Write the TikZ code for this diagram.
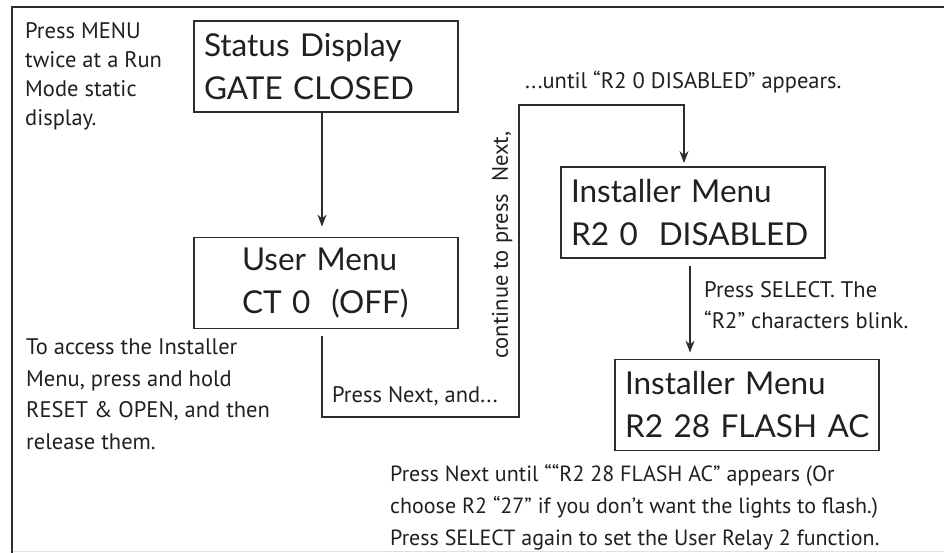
\documentclass[tikz,border=0pt]{standalone}
\usepackage{fontspec}
\setmainfont{PT Sans}
\newfontfamily\boxfont{Lato}
\usetikzlibrary{arrows.meta}
\definecolor{ink}{RGB}{35,31,32}
\definecolor{frame}{RGB}{45,45,45}
\begin{document}
\begin{tikzpicture}[x=1pt,y=-1pt,
  box/.style={draw=frame, line width=1.8pt, minimum height=91pt, text width=244pt, inner xsep=10pt,
    font=\boxfont\fontsize{31.5}{43}\selectfont, align=left, text=ink},
  note/.style={font=\fontsize{22.5}{29}\selectfont, align=left, inner sep=0pt, text=ink, anchor=north west},
  conn/.style={draw=frame, line width=1.1pt},
  arr/.style={conn, -{Stealth[length=12pt,width=9pt]}}]
\useasboundingbox (0,0) rectangle (944,553);
% outer frame
\draw[draw=frame, line width=2pt] (11.5,553) -- (11.5,7) -- (944,7);
\draw[draw=black!12, line width=0.8pt] (12.5,551.5) -- (944,551.5);
% boxes
\node[box] (sd) at (326,66.5) {\mbox{Status Display}\\\mbox{GATE CLOSED}};
\node[box, text width=168pt, inner xsep=48pt] (um) at (326,283) {\mbox{User Menu}\\\mbox{CT 0\ \ (OFF)}};
\node[box] (im1) at (693,212.5) {\mbox{Installer Menu}\\\mbox{R2 0\ \ DISABLED}};
\node[box] (im2) at (747,405) {\mbox{Installer Menu}\\\mbox{R2 28 FLASH AC}};
% connectors
\coordinate (k1) at (519,417);
\coordinate (k2) at (519,105);
\draw[arr, shorten >=10pt] ([xshift=-4pt]sd.south) -- ([xshift=-4pt]um.north);
\draw[arr, shorten >=3pt] ([xshift=-4pt,yshift=-7pt]um.south) |- (k1) -- (k2) -| ([xshift=-9pt]im1.north);
\draw[arr, shorten >=6pt] ([xshift=-3pt,yshift=-7pt]im1.south) -- ([xshift=-57pt]im2.north);
% notes
\node[note] (n1) at (25,22) {Press MENU\\twice at a Run\\Mode static\\display.};
\node[note, font=\fontsize{22.5}{31.5}\selectfont] (n2) at (26,339) {To access the Installer\\Menu, press and hold\\RESET \& OPEN, and then\\release them.};
\node[note] (n3) at (332,386) {Press Next, and...};
\node[note, rotate=90, anchor=center] (n4) at (502,245) {continue to press\ \ Next,};
\node[note] (n5) at (525,71) {...until “R2 0 DISABLED” appears.};
\node[note, font=\fontsize{22.5}{31}\selectfont] (n6) at (704,281) {Press SELECT. The\\“R2” characters blink.};
\node[note, font=\fontsize{22}{32}\selectfont] (n7) at (390,464) {Press Next until ““R2 28 FLASH AC” appears (Or\\choose R2 “27” if you don’t want the lights to flash.)\\Press SELECT again to set the User Relay 2 function.};
\end{tikzpicture}
\end{document}
